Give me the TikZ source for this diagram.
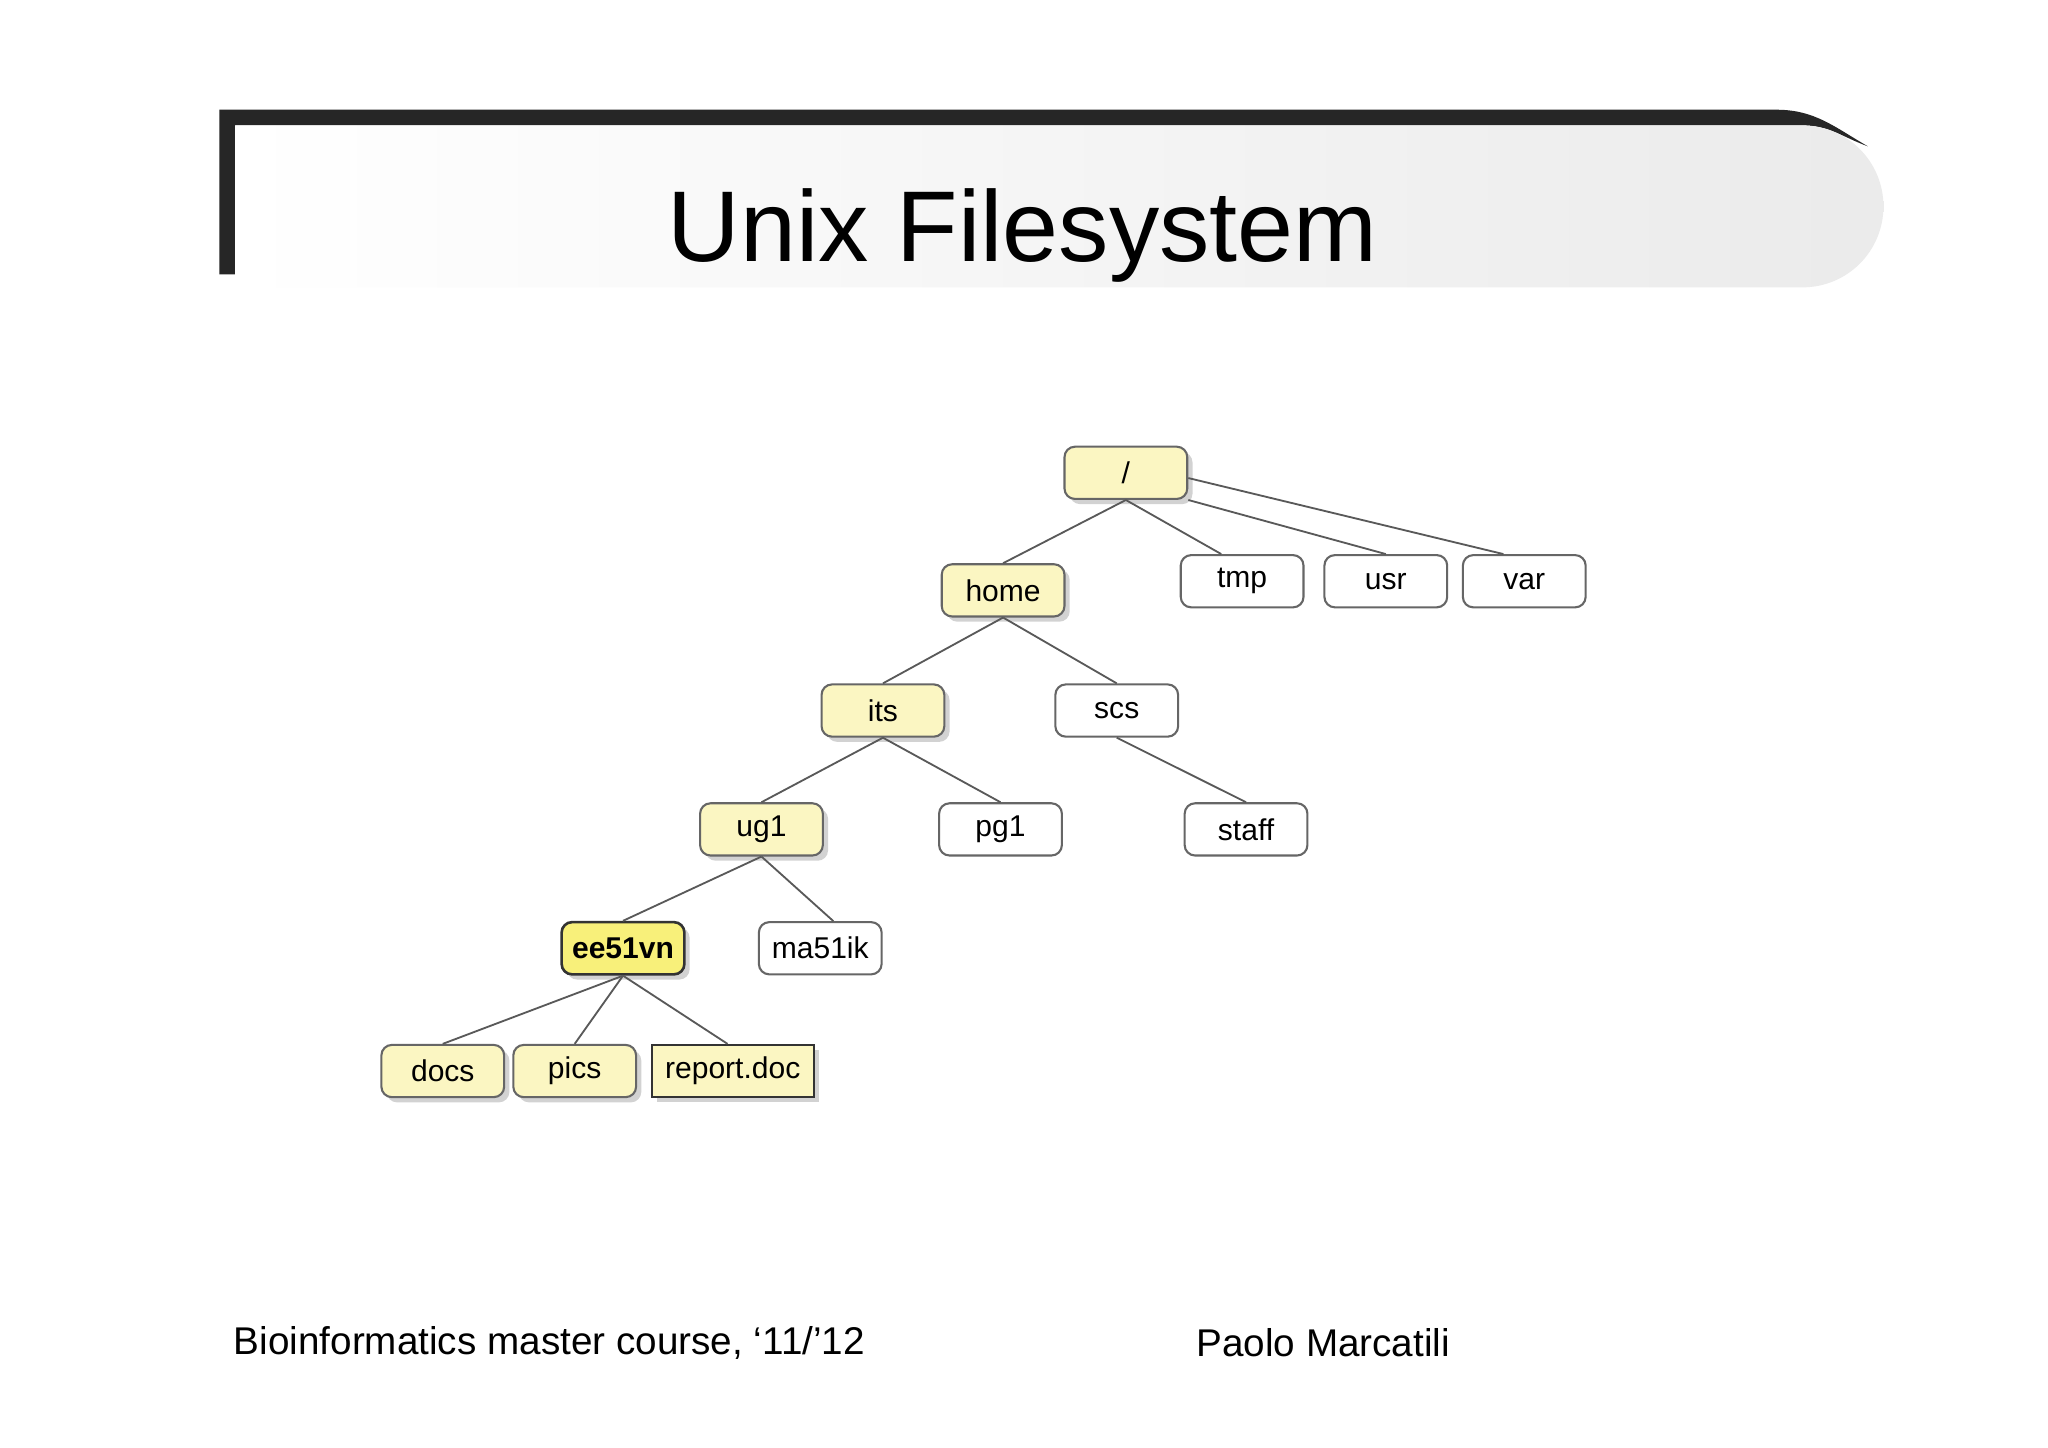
\documentclass[tikz,border=0pt]{standalone}
\usepackage{fontspec}
\setmainfont{Liberation Sans}
\usetikzlibrary{shadows}
\definecolor{ny}{HTML}{FBF6C2}
\definecolor{nb}{HTML}{F8F07A}
\begin{document}
\begin{tikzpicture}[x=0.5pt,y=-0.5pt,
 fn/.style={draw=black!60,line width=0.8pt,rounded corners=4pt,minimum width=47pt,minimum height=20pt,inner sep=1pt,font=\fontsize{11.5}{12}\selectfont},
 yn/.style={fn,fill=ny,drop shadow={shadow xshift=2pt,shadow yshift=-2pt,opacity=0.35}},
 wn/.style={fn,fill=white},
 ed/.style={draw=black!65,line width=0.7pt}]
\useasboundingbox (0,0) rectangle (1568,1108);
\fill[white] (0,0) rectangle (1568,1108);
% title bar
\fill[black!85] (168,84) -- (1360,84) to[out=0,in=150] (1430,112) to[out=160,in=0] (1380,96) -- (180,96) -- (180,210) -- (168,210) -- cycle;
\shade[left color=white,right color=black!8] (180,96) -- (1380,96) to[out=0,in=90] (1442,158) to[out=-90,in=0] (1380,220) -- (180,220) -- cycle;
\node[font=\fontsize{38.5}{44}\selectfont] (title) at (783,180) {Unix Filesystem};
% nodes
\node[yn] (root) at (862,362) {/};
\node[yn] (home) at (768,452) {home};
\node[wn] (tmp) at (951,445) {tmp};
\node[wn] (usr) at (1061,445) {usr};
\node[wn] (var) at (1167,445) {var};
\node[yn] (its) at (676,544) {its};
\node[wn] (scs) at (855,544) {scs};
\node[yn] (ug1) at (583,635) {ug1};
\node[wn] (pg1) at (766,635) {pg1};
\node[wn] (staff) at (954,635) {staff};
\node[yn,fill=nb,line width=1pt,draw=black!80,font=\fontsize{11.5}{12}\selectfont\bfseries] (ee) at (477,726) {ee51vn};
\node[wn] (ma) at (628,726) {ma51ik};
\node[yn] (docs) at (339,820) {docs};
\node[yn] (pics) at (440,820) {pics};
\node[yn,rounded corners=0pt,minimum width=62pt,draw=black!80] (rep) at (561,820) {report.doc};
% edges
\draw[ed] (root.south) -- (home.north);
\draw[ed] (root.south) -- ([xshift=-8pt]tmp.north);
\draw[ed] (root.south east) -- (usr.north);
\draw[ed] ([yshift=-2pt]root.east) -- ([xshift=-8pt]var.north);
\draw[ed] (home.south) -- (its.north);
\draw[ed] (home.south) -- (scs.north);
\draw[ed] (its.south) -- (ug1.north);
\draw[ed] (its.south) -- (pg1.north);
\draw[ed] (scs.south) -- (staff.north);
\draw[ed] (ug1.south) -- (ee.north);
\draw[ed] (ug1.south) -- ([xshift=5pt]ma.north);
\draw[ed] (ee.south) -- (docs.north);
\draw[ed] (ee.south) -- (pics.north);
\draw[ed] (ee.south) -- ([xshift=-2pt]rep.north);
% footer
\node[anchor=west,font=\fontsize{14.8}{17}\selectfont] (f1) at (172,1028) {Bioinformatics master course, ‘11/’12};
\node[anchor=west,font=\fontsize{14.8}{17}\selectfont] (f2) at (909,1028) {Paolo Marcatili};
\end{tikzpicture}
\end{document}
